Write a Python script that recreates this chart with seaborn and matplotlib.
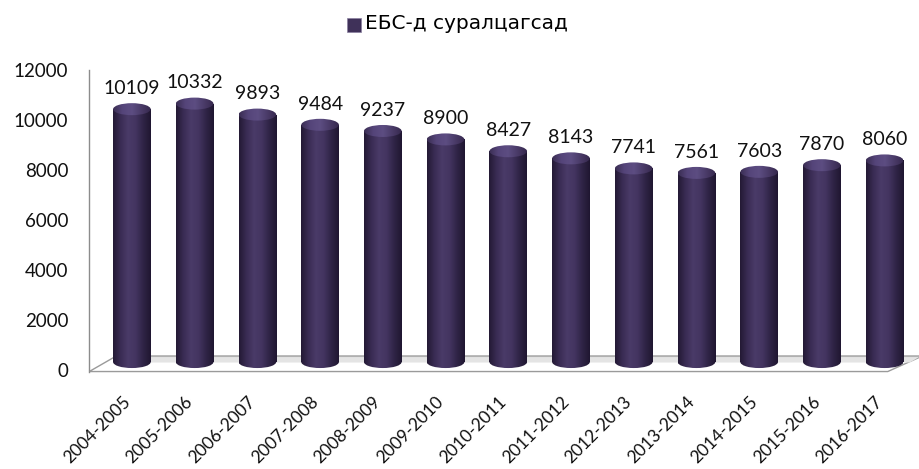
""" Excel-style 3D cylinder column chart: ЕБС-д суралцагсад """

import matplotlib
matplotlib.use("Agg")
from matplotlib import pyplot as plt
from matplotlib.patches import Ellipse, Polygon, Rectangle
from matplotlib.colors import LinearSegmentedColormap
from matplotlib import transforms
import seaborn as sb
import pandas as pd
import numpy as np

years = ["2004-2005", "2005-2006", "2006-2007", "2007-2008", "2008-2009",
         "2009-2010", "2010-2011", "2011-2012", "2012-2013", "2013-2014",
         "2014-2015", "2015-2016", "2016-2017"]
students = [10109, 10332, 9893, 9484, 9237, 8900, 8427, 8143, 7741, 7561,
            7603, 7870, 8060]
series_name = "ЕБС-д суралцагсад"
y_ticks = [0, 2000, 4000, 6000, 8000, 10000, 12000]

df = pd.DataFrame({"year": years, "value": students})

sb.set_theme(style="white")
plt.rcParams["font.family"] = ["Lato", "DejaVu Sans"]

fig = plt.figure(figsize=(9.2, 4.69), dpi=100)
ax = fig.add_axes([0.097, 0.211, 0.885, 0.64])

depth = 320      # 3D lift of the columns above the floor front edge
cap_h = 480      # ellipse height in data units
bar_w = 0.6

sb.barplot(data=df, x="year", y="value", ax=ax, width=bar_w,
           color="#3b2d56", bottom=depth, saturation=1)

body_cmap = LinearSegmentedColormap.from_list(
    "cyl", ["#231934", "#3a2c54", "#4a3b68", "#433460", "#2f2446", "#1f1630"])
cap_cmap = LinearSegmentedColormap.from_list(
    "cap", ["#3a2d52", "#55457a", "#5d4d82", "#4a3b68", "#35284c"])
grad = np.linspace(0, 1, 256).reshape(1, -1)

xlim = (-0.68, 12.3)
ylim = (0, 12000)

# floor of the 3D plot
floor = Polygon([(xlim[0], -60), (12.05, -60), (12.6, 560), (-0.25, 560)],
                closed=True, facecolor="white", edgecolor="#9a9a9a",
                lw=1.0, zorder=0.5, clip_on=False)
ax.add_patch(floor)
band = Polygon([(-0.05, 300), (12.4, 300), (12.55, 520), (-0.2, 520)],
               closed=True, facecolor="#e4e4e4", edgecolor="none",
               zorder=0.6, clip_on=False)
ax.add_patch(band)
ax.plot([-0.25, 12.6], [560, 560], color="#b0b0b0", lw=0.8, zorder=0.7,
        clip_on=False)

for i, bar in enumerate(list(ax.patches)[:len(students)]):
    x0 = bar.get_x()
    w = bar.get_width()
    xc = x0 + w / 2
    top = depth + students[i]
    bar.set_facecolor("none")
    bar.set_edgecolor("none")

    bottom_el = Ellipse((xc, depth), w, cap_h, facecolor="none",
                        edgecolor="none", zorder=2)
    ax.add_patch(bottom_el)
    im = ax.imshow(grad, cmap=body_cmap, aspect="auto", zorder=2,
                   extent=(x0, x0 + w, depth - cap_h, depth + cap_h))
    im.set_clip_path(bottom_el)

    body = Rectangle((x0, depth), w, students[i], facecolor="none",
                     edgecolor="none", zorder=3)
    ax.add_patch(body)
    im = ax.imshow(grad, cmap=body_cmap, aspect="auto", zorder=3,
                   extent=(x0, x0 + w, depth, top))
    im.set_clip_path(body)

    cap = Ellipse((xc, top), w, cap_h, facecolor="none", edgecolor="none",
                  zorder=4)
    ax.add_patch(cap)
    im = ax.imshow(grad, cmap=cap_cmap, aspect="auto", zorder=4,
                   extent=(x0, x0 + w, top - cap_h, top + cap_h))
    im.set_clip_path(cap)

    ax.text(xc, top + cap_h / 2 + 250, str(students[i]), ha="center",
            va="bottom", fontsize=14, color="#111111", zorder=5)

ax.set_xlim(*xlim)
ax.set_ylim(*ylim)
ax.set_yticks(y_ticks)
ax.set_yticklabels([str(t) for t in y_ticks], fontsize=13.5, color="#111111")
ax.tick_params(axis="y", length=0, pad=15)
ax.tick_params(axis="x", length=0, pad=17)
ax.set_xlabel("")
ax.set_ylabel("")
ax.set_xticks(range(len(years)))
ax.set_xticklabels(years, rotation=45, ha="right", rotation_mode="anchor",
                   fontsize=12.5, color="#111111")
shift = transforms.ScaledTranslation(-0.10, 0, fig.dpi_scale_trans)
for lab in ax.get_xticklabels():
    lab.set_transform(lab.get_transform() + shift)

for side in ["top", "right", "bottom"]:
    ax.spines[side].set_visible(False)
ax.spines["left"].set_color("#8c8c8c")
ax.spines["left"].set_linewidth(1.0)
ax.spines["left"].set_bounds(-60, 12000)

# legend on top
fig.patches.append(Rectangle((0.377, 0.932), 0.0152, 0.030,
                             transform=fig.transFigure, facecolor="#3f3159",
                             edgecolor="#8a80a0", lw=0.5))
fig.text(0.397, 0.949, series_name, ha="left", va="center", fontsize=14.5,
         family=["DejaVu Sans"], color="#000000")

fig.savefig("out.png", dpi=100)
